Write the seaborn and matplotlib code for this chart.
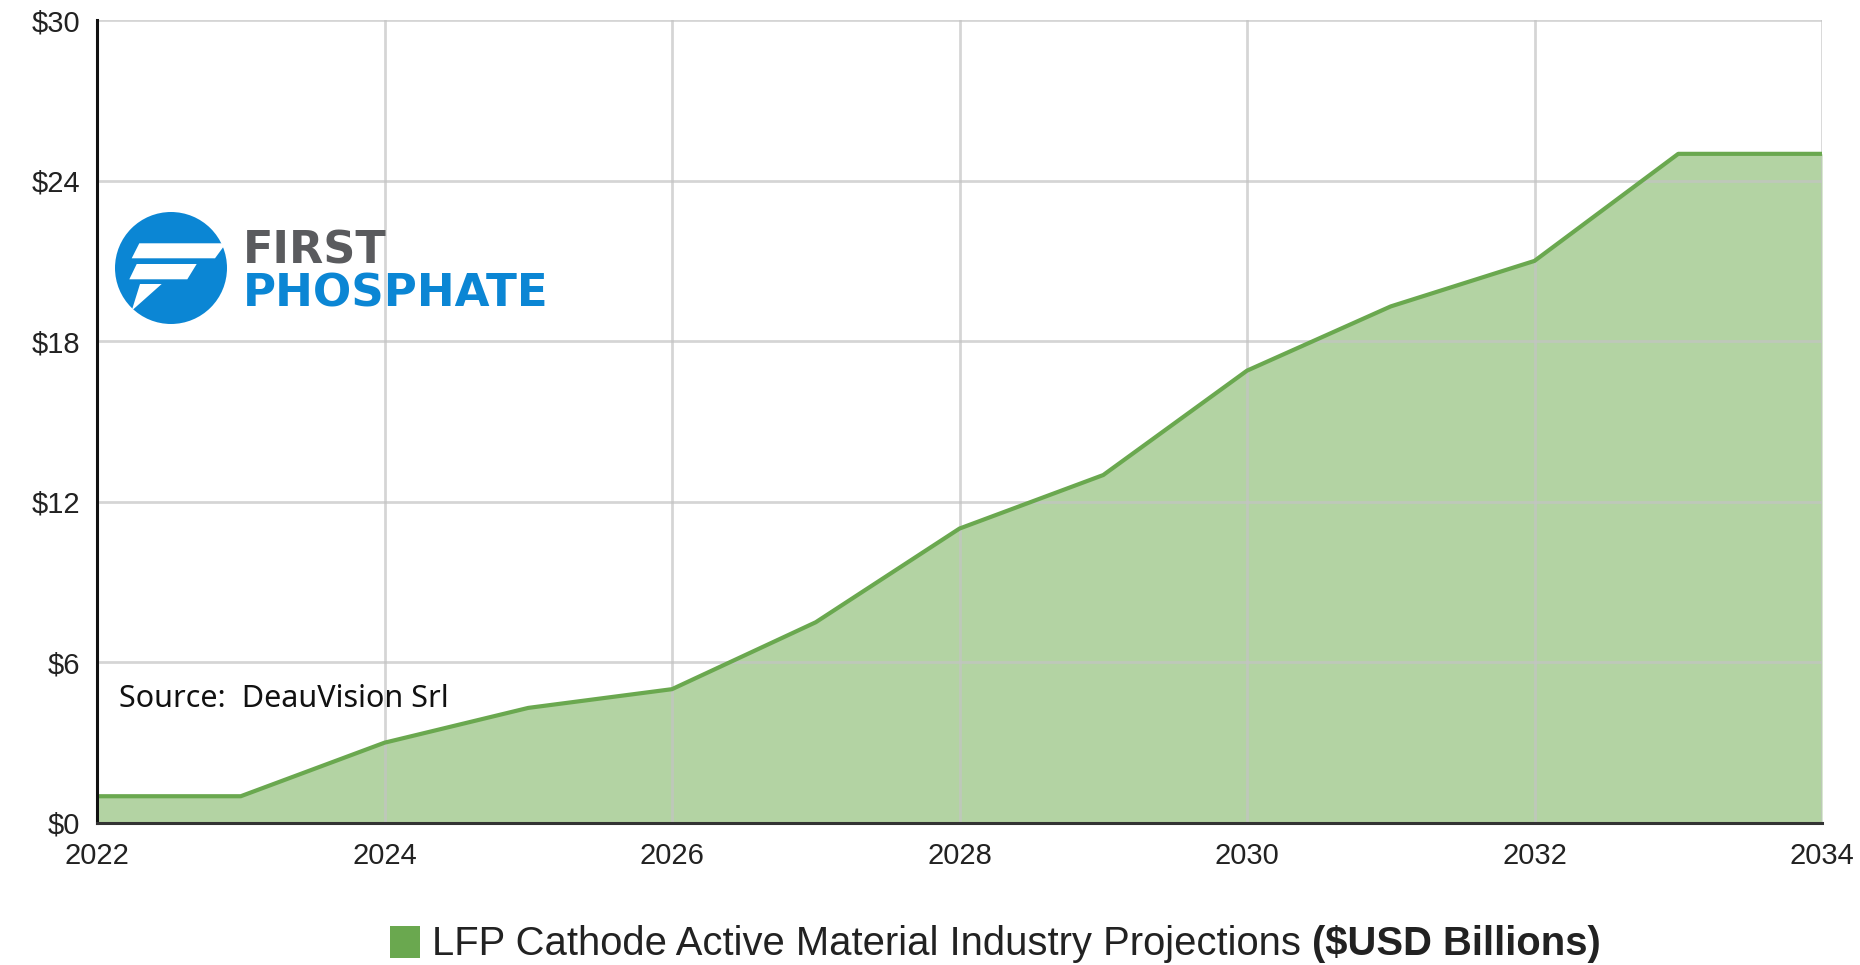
import matplotlib
matplotlib.use("Agg")
import matplotlib.pyplot as plt
import seaborn as sns
import pandas as pd
from matplotlib.patches import Rectangle, Ellipse, Polygon

# ---- data ----
years = [2022, 2023, 2024, 2025, 2026, 2027, 2028, 2029, 2030, 2031, 2032, 2033, 2034]
values = [1.0, 1.0, 3.0, 4.3, 5.0, 7.5, 11.0, 13.0, 16.9, 19.3, 21.0, 25.0, 25.0]
xticks = [2022, 2024, 2026, 2028, 2030, 2032, 2034]
yticks = [0, 6, 12, 18, 24, 30]
ytick_labels = ["$0", "$6", "$12", "$18", "$24", "$30"]
legend_normal = "LFP Cathode Active Material Industry Projections "
legend_bold = "($USD Billions)"
source_text = "Source:  DeauVision Srl"

df = pd.DataFrame({"year": years, "value": values})

sns.set_theme(style="white")
plt.rcParams["font.family"] = ["Liberation Sans", "DejaVu Sans"]

W, H = 1860, 965
fig = plt.figure(figsize=(W / 100, H / 100), dpi=100)
ax = fig.add_axes([97 / W, 1 - 823 / H, (1822 - 97) / W, (823 - 20) / H])

LINE = "#6aa84f"
FILL = "#b3d3a3"

ax.fill_between(df["year"], df["value"], 0, color=FILL, zorder=2, linewidth=0)
sns.lineplot(data=df, x="year", y="value", ax=ax, color=LINE, linewidth=3, zorder=4)

ax.set_xlim(2022, 2034)
ax.set_ylim(0, 30)
ax.set_xticks(xticks)
ax.set_xticklabels([str(t) for t in xticks])
ax.set_yticks(yticks)
ax.set_yticklabels(ytick_labels)
ax.set_xlabel("")
ax.set_ylabel("")

ax.grid(True, color="#c4c4c4", linewidth=2, zorder=3)
ax.set_axisbelow(False)
for gl in ax.get_xgridlines() + ax.get_ygridlines():
    gl.set_alpha(0.7)
    gl.set_zorder(3)

for s in ["top", "right"]:
    ax.spines[s].set_visible(False)
ax.spines["left"].set_color("#111111")
ax.spines["left"].set_linewidth(2.2)
ax.spines["bottom"].set_color("#333333")
ax.spines["bottom"].set_linewidth(2.2)
ax.spines["left"].set_zorder(5)
ax.spines["bottom"].set_zorder(5)

ax.tick_params(axis="y", length=0, pad=12, labelsize=21, labelcolor="#222222")
ax.tick_params(axis="x", length=0, pad=14, labelsize=21, labelcolor="#222222")

# source note
fig.text(119 / W, 1 - 699 / H, source_text, fontsize=22,
         family=["Noto Sans", "DejaVu Sans"], color="#111111", va="center", ha="left")


# ---- logo ----
def P(x, y):
    return (x / W, 1 - y / H)

logo_blue = "#0b86d4"
fig.patches.append(Ellipse(P(171, 268), 112 / W, 112 / H, transform=fig.transFigure,
                           facecolor=logo_blue, edgecolor="none", zorder=10))
shapes = [
    [(139.3, 243.3), (226, 243.3), (215, 258.3), (131.7, 258.3)],
    [(136.7, 264.0), (196.7, 264.0), (187.3, 279.3), (129.3, 279.3)],
    [(140.0, 284.0), (161.7, 284.0), (131.7, 310.7)],
]
for sh in shapes:
    fig.patches.append(Polygon([P(x, y) for x, y in sh], closed=True, transform=fig.transFigure,
                               facecolor="white", edgecolor="none", zorder=11))
fig.text(243 / W, 1 - 263 / H, "FIRST", fontsize=32, fontweight="bold", family=["DejaVu Sans"],
         color="#5a5b5e", ha="left", va="baseline")
fig.text(243 / W, 1 - 306 / H, "PHOSPHATE", fontsize=32.5, fontweight="bold", family=["DejaVu Sans"],
         color=logo_blue, ha="left", va="baseline")

# ---- legend ----
fig.patches.append(Rectangle(P(390, 958), 30 / W, 32 / H, transform=fig.transFigure,
                             facecolor=LINE, edgecolor="none"))
t1 = fig.text(432 / W, 1 - 944 / H, legend_normal, fontsize=28.8, color="#222222", ha="left", va="center")
fig.canvas.draw()
r = fig.canvas.get_renderer()
bb = t1.get_window_extent(renderer=r)
fig.text(bb.x1 / W, 1 - 944 / H, legend_bold, fontsize=28.8, fontweight="bold", color="#222222",
         ha="left", va="center")

fig.savefig("out.png", dpi=100)
